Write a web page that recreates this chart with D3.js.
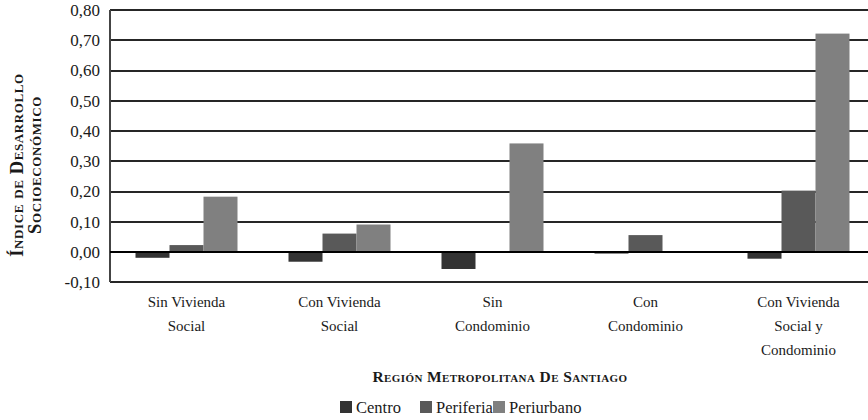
<!DOCTYPE html>
<html>
<head>
<meta charset="utf-8">
<script src="https://cdn.jsdelivr.net/npm/d3@7"></script>
<style>
  html, body { margin: 0; padding: 0; background: #fff; }
  svg { display: block; }
</style>
</head>
<body>
<svg id="chart" width="868" height="420"></svg>
<script>
const categories = [
  ["Sin Vivienda", "Social"],
  ["Con Vivienda", "Social"],
  ["Sin", "Condominio"],
  ["Con", "Condominio"],
  ["Con Vivienda", "Social y", "Condominio"]
];
const seriesNames = ["Centro", "Periferia", "Periurbano"];
const centro     = [-0.019, -0.032, -0.056, -0.005, -0.022];
const periferia  = [0.023, 0.061, 0.000, 0.056, 0.203];
const periurbano = [0.183, 0.091, 0.359, 0.000, 0.722];
const yTicks = [-0.1, 0, 0.1, 0.2, 0.3, 0.4, 0.5, 0.6, 0.7, 0.8];
const yTitle = ["Índice de Desarrollo", "Socioeconómico"];
const xTitle = "Región Metropolitana De Santiago";

const FONT = "'Liberation Serif', 'Times New Roman', serif";
const colors = { "Centro": "#333333", "Periferia": "#595959", "Periurbano": "#808080" };
const seriesValues = [centro, periferia, periurbano];

const svg = d3.select("#chart");
const pLeft = 110, pRight = 875, pTop = 10, pBottom = 282.3;

const catKeys = categories.map((c, i) => i);
const x0 = d3.scaleBand().domain(catKeys).range([pLeft, pRight]).paddingInner(0).paddingOuter(0);
const x1 = d3.scaleBand().domain(seriesNames).range([0, x0.bandwidth()]).paddingInner(0).paddingOuter(0.75);
const y = d3.scaleLinear().domain([-0.1, 0.8]).range([pBottom, pTop]);

// gridlines
const grid = svg.append("g");
yTicks.forEach(t => {
  const yy = Math.round(y(t));
  grid.append("line").attr("x1", pLeft).attr("x2", 868).attr("y1", yy - 1).attr("y2", yy - 1)
    .attr("stroke", "#d0d0d0").attr("stroke-width", 1).attr("shape-rendering", "crispEdges");
  grid.append("line").attr("x1", pLeft).attr("x2", 868).attr("y1", yy).attr("y2", yy)
    .attr("stroke", t === 0 ? "#000" : "#262626").attr("stroke-width", 1.3).attr("shape-rendering", "crispEdges");
});
// left border
svg.append("line").attr("x1", pLeft).attr("x2", pLeft).attr("y1", pTop).attr("y2", Math.round(pBottom))
  .attr("stroke", "#444").attr("stroke-width", 1.6).attr("shape-rendering", "crispEdges");

// bars
const groups = svg.append("g").selectAll("g").data(catKeys).join("g")
  .attr("transform", d => `translate(${x0(d)},0)`);
groups.selectAll("rect").data(i => seriesNames.map((s, k) => ({ s, v: seriesValues[k][i] })))
  .join("rect")
  .attr("x", d => x1(d.s))
  .attr("width", x1.bandwidth())
  .attr("y", d => y(Math.max(0, d.v)))
  .attr("height", d => Math.abs(y(d.v) - y(0)))
  .attr("fill", d => colors[d.s]);

// re-draw zero line on top
svg.append("line").attr("x1", pLeft).attr("x2", 868).attr("y1", Math.round(y(0))).attr("y2", Math.round(y(0)))
  .attr("stroke", "#000").attr("stroke-width", 1.3).attr("shape-rendering", "crispEdges");

// y axis labels
const yAxis = d3.axisLeft(y).tickValues(yTicks).tickSize(0).tickPadding(10)
  .tickFormat(d => d3.format(".2f")(d).replace(".", ",").replace("−", "-"));
const ya = svg.append("g").attr("transform", `translate(${pLeft},0)`).call(yAxis)
  .attr("font-family", FONT).attr("font-size", 17);
ya.select(".domain").remove();
ya.selectAll("text").attr("fill", "#1a1a1a");

// category labels
const catG = svg.append("g").attr("font-family", FONT).attr("fill", "#1a1a1a");
categories.forEach((lines, i) => {
  const cx = x0(i) + x0.bandwidth() / 2;
  const t = catG.append("text").attr("x", cx).attr("y", 307)
    .attr("text-anchor", "middle").attr("font-size", 15);
  lines.forEach((ln, j) => t.append("tspan").attr("x", cx).attr("dy", j === 0 ? 0 : 24).text(ln));
});

// x title
svg.append("text").attr("x", 500).attr("y", 382).attr("text-anchor", "middle")
  .attr("font-family", FONT).attr("fill", "#1a1a1a")
  .attr("font-size", 15.5).attr("font-weight", "bold").style("font-variant", "small-caps")
  .attr("letter-spacing", 0.4).text(xTitle);

// y title
const yt = svg.append("text").attr("transform", "translate(0,165) rotate(-90)")
  .attr("font-family", FONT).attr("fill", "#1a1a1a")
  .attr("text-anchor", "middle").attr("font-size", 18.5).attr("font-weight", "bold")
  .style("font-variant", "small-caps").attr("letter-spacing", 0.6);
yTitle.forEach((ln, j) => yt.append("tspan").attr("x", 0).attr("y", 23 + j * 18).text(ln));

// legend
const legendX = [340, 420, 493];
const lg = svg.append("g").attr("font-family", FONT).attr("fill", "#1a1a1a");
seriesNames.forEach((s, k) => {
  lg.append("rect").attr("x", legendX[k]).attr("y", 401).attr("width", 12).attr("height", 12).attr("fill", colors[s]);
  lg.append("text").attr("x", legendX[k] + 16).attr("y", 413).attr("font-size", 16.5).text(s);
});
</script>
</body>
</html>
